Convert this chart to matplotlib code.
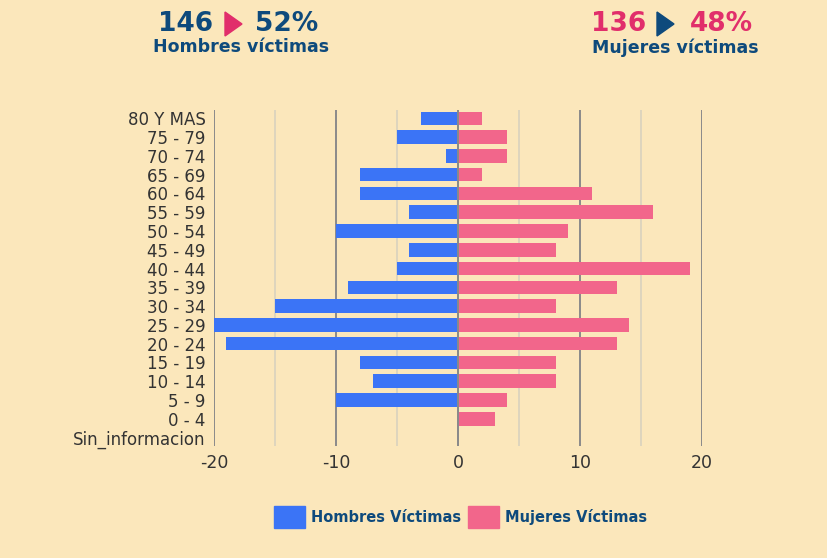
import matplotlib.pyplot as plt
from matplotlib.patches import Patch, Polygon

# datos por grupo de edad (de arriba hacia abajo)
grupos = ['80 Y MAS', '75 - 79', '70 - 74', '65 - 69', '60 - 64', '55 - 59',
          '50 - 54', '45 - 49', '40 - 44', '35 - 39', '30 - 34', '25 - 29',
          '20 - 24', '15 - 19', '10 - 14', '5 - 9', '0 - 4', 'Sin_informacion']
hombres = [-3, -5, -1, -8, -8, -4, -10, -4, -5, -9, -15, -20, -19, -8, -7, -10, 0, 0]
mujeres = [2, 4, 4, 2, 11, 16, 9, 8, 19, 13, 8, 14, 13, 8, 8, 4, 3, 0]
xticks = [-20, -10, 0, 10, 20]

fondo = '#FBE7BB'
azul = '#3B74F6'
rosa = '#F2668B'
azul_osc = '#0E4A7C'
rosa_osc = '#E12E6B'

W, H = 827, 558
fig = plt.figure(figsize=(W / 100, H / 100), dpi=100, facecolor=fondo)
ax = fig.add_axes([0.2588, 0.2007, 0.59, 0.6023])
ax.set_facecolor(fondo)

y = list(range(len(grupos)))
ax.barh(y, hombres, height=0.72, color=azul, zorder=3)
ax.barh(y, mujeres, height=0.72, color=rosa, zorder=3)

# lineas de cuadricula
for v in [-15, -5, 5, 15]:
    ax.axvline(v, color='#D9D2BE', lw=1.2, zorder=1)
for v in xticks:
    ax.axvline(v, color='#8A8A8A', lw=1.4, zorder=2)
ax.axvline(0, color='#8A8A8A', lw=1.4, zorder=4)

ax.set_xlim(-20, 20)
ax.set_ylim(len(grupos) - 0.55, -0.45)
ax.set_yticks(y)
ax.set_yticklabels(grupos, family='DejaVu Sans', fontsize=12, color='#333333')
ax.set_xticks(xticks)
ax.set_xticklabels([str(t) for t in xticks], family='DejaVu Sans',
                   fontsize=12.5, color='#333333')
ax.tick_params(length=0, pad=6)
for s in ax.spines.values():
    s.set_visible(False)

# encabezados
fx = 'DejaVu Sans'
def num(x, s, c):
    fig.text(x / W, 0.957, s, color=c, fontsize=19, fontweight='semibold',
             family=fx, ha='center', va='center')

def tri(x0, c):
    # triangulo en pixeles -> fraccion de figura
    pts = [(x0 / W, 1 - 12 / H), (x0 / W, 1 - 36 / H), ((x0 + 17) / W, 1 - 24 / H)]
    fig.add_artist(Polygon(pts, closed=True, color=c, transform=fig.transFigure))

num(186, '146', azul_osc)
tri(225, rosa_osc)
num(287, '52%', azul_osc)
fig.text(241 / W, 0.915, 'Hombres víctimas', color=azul_osc, fontsize=12.5,
         fontweight='bold', family=fx, ha='center', va='center')

num(619, '136', rosa_osc)
tri(657, azul_osc)
num(721, '48%', rosa_osc)
fig.text(675 / W, 0.915, 'Mujeres víctimas', color=azul_osc, fontsize=12.5,
         fontweight='bold', family=fx, ha='center', va='center')

# leyenda
handles = [Patch(color=azul, label='Hombres Víctimas'),
           Patch(color=rosa, label='Mujeres Víctimas')]
leg = fig.legend(handles=handles, loc='center', bbox_to_anchor=(0.557, 0.073),
                 ncol=2, frameon=False, handlelength=2.1, handleheight=1.95,
                 handletextpad=0.45, columnspacing=0.45,
                 prop={'family': fx, 'weight': 'bold', 'size': 10.5})
for t in leg.get_texts():
    t.set_color(azul_osc)

fig.savefig('out.png', dpi=100, facecolor=fondo)
